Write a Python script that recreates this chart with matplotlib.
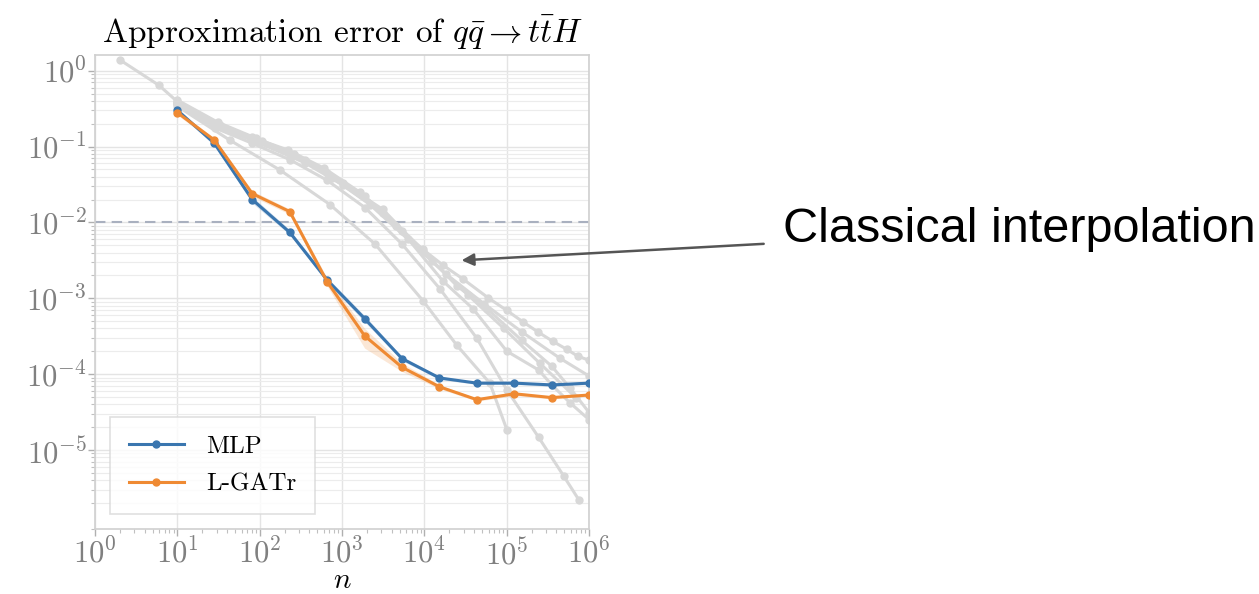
import matplotlib
matplotlib.use("Agg")
import matplotlib.pyplot as plt
from matplotlib.ticker import LogLocator, NullFormatter

plt.rcParams["font.family"] = "serif"
plt.rcParams["font.serif"] = ["cmr10", "DejaVu Serif"]
plt.rcParams["mathtext.fontset"] = "cm"
plt.rcParams["axes.formatter.use_mathtext"] = True

# training set sizes for the two networks
n_train = [10, 28, 81, 231, 658, 1874, 5337, 15199, 43288, 123285, 351119, 1000000]

mlp_err = [0.30, 0.111, 0.020, 0.0074, 1.74e-3, 5.4e-4, 1.6e-4, 8.9e-5, 7.6e-5, 7.6e-5, 7.2e-5, 7.6e-5]
mlp_lo = [0.28, 0.104, 0.018, 0.0069, 1.60e-3, 4.9e-4, 1.5e-4, 8.5e-5, 7.3e-5, 7.3e-5, 6.9e-5, 7.3e-5]
mlp_hi = [0.32, 0.118, 0.022, 0.0080, 1.88e-3, 5.9e-4, 1.7e-4, 9.3e-5, 7.9e-5, 7.9e-5, 7.5e-5, 7.9e-5]

gatr_err = [0.28, 0.122, 0.024, 0.0139, 1.65e-3, 3.2e-4, 1.23e-4, 6.8e-5, 4.6e-5, 5.5e-5, 4.9e-5, 5.3e-5]
gatr_lo = [0.26, 0.114, 0.022, 0.0128, 1.45e-3, 2.2e-4, 1.08e-4, 6.4e-5, 4.4e-5, 5.2e-5, 4.7e-5, 5.1e-5]
gatr_hi = [0.30, 0.130, 0.026, 0.0150, 1.85e-3, 4.0e-4, 1.40e-4, 7.2e-5, 4.8e-5, 5.8e-5, 5.1e-5, 5.5e-5]

# classical interpolation baselines (n, error)
interp_n1 = [2, 6, 10, 29, 100, 354, 1023, 3127, 9570, 16700, 29200, 58800, 100000, 156000,
             238000, 362000, 535000, 727000, 1000000]
interp_e1 = [1.39, 0.64, 0.39, 0.197, 0.111, 0.061, 0.031, 0.0135, 0.0044, 0.00274, 0.0018,
             0.00102, 6.9e-4, 4.9e-4, 3.6e-4, 2.7e-4, 2.12e-4, 1.72e-4, 1.52e-4]
interp_n2 = [10, 29, 80, 233, 655, 1892, 5320, 16700, 38700, 100000, 244000, 351000, 582000, 1000000]
interp_e2 = [0.37, 0.185, 0.122, 0.077, 0.045, 0.022, 0.0076, 0.00169, 7.3e-4, 2.0e-4, 1.13e-4,
             7.2e-5, 4.2e-5, 2.5e-5]
interp_n3 = [10, 29, 80, 233, 655, 1892, 5320, 15400, 43300, 100000, 244000, 492000, 748000]
interp_e3 = [0.36, 0.175, 0.111, 0.067, 0.036, 0.0157, 0.0052, 0.00133, 2.96e-4, 6.2e-5, 1.46e-5,
             4.5e-6, 2.2e-6]
interp_n4 = [10, 43, 176, 711, 2500, 9570, 24700, 62200, 100000]
interp_e4 = [0.34, 0.122, 0.049, 0.0172, 0.0052, 9.3e-4, 2.4e-4, 7.6e-5, 1.85e-5]
interp_n5 = [10, 33, 106, 354, 1023, 3127, 9570, 24700, 57200, 152000, 351000, 582000, 1000000]
interp_e5 = [0.38, 0.191, 0.118, 0.067, 0.033, 0.0148, 0.0042, 0.00146, 7.3e-4, 2.78e-4, 1.27e-4,
             6.6e-5, 3.1e-5]
interp_n6 = [10, 31, 90, 260, 752, 2175, 6290, 18200, 52600, 152000, 440000, 1000000]
interp_e6 = [0.41, 0.209, 0.129, 0.080, 0.039, 0.0172, 0.0060, 0.00209, 8.5e-4, 3.6e-4, 1.62e-4, 9.4e-5]
interp_n7 = [10, 29, 80, 220, 601, 1645, 4497, 12300, 33600, 92000, 251000, 688000]
interp_e7 = [0.38, 0.197, 0.133, 0.090, 0.052, 0.025, 0.0091, 0.0031, 0.00111, 4.0e-4, 1.39e-4, 4.9e-5]

interp_runs = [(interp_n1, interp_e1), (interp_n2, interp_e2), (interp_n3, interp_e3),
               (interp_n4, interp_e4), (interp_n5, interp_e5), (interp_n6, interp_e6),
               (interp_n7, interp_e7)]

target_err = 1e-2

BLUE = "#3a76af"
ORANGE = "#ef8a33"
GRAY = "#d8d8d8"

fig = plt.figure(figsize=(12.59, 5.94), dpi=100)
ax = fig.add_axes([0.0755, 0.109, 0.3925, 0.798])

for xs, ys in interp_runs:
    ax.plot(xs, ys, color=GRAY, lw=2.2, marker="o", ms=5, zorder=2)

ax.axhline(target_err, color="#a9b0bf", lw=1.5, ls=(0, (5, 3)), zorder=1)

ax.fill_between(n_train, mlp_lo, mlp_hi, color=BLUE, alpha=0.2, lw=0, zorder=3)
ax.fill_between(n_train, gatr_lo, gatr_hi, color=ORANGE, alpha=0.2, lw=0, zorder=3)
ax.plot(n_train, mlp_err, color=BLUE, lw=2.2, marker="o", ms=5, label="MLP", zorder=4)
ax.plot(n_train, gatr_err, color=ORANGE, lw=2.2, marker="o", ms=5, label="L-GATr", zorder=4)

ax.set_xscale("log")
ax.set_yscale("log")
ax.set_xlim(1, 1e6)
ax.set_ylim(9e-7, 1.6)

ax.xaxis.set_major_locator(LogLocator(base=10, numticks=10))
ax.xaxis.set_minor_locator(LogLocator(base=10, subs=range(2, 10), numticks=20))
ax.xaxis.set_minor_formatter(NullFormatter())
ax.yaxis.set_major_locator(LogLocator(base=10, numticks=10))
ax.yaxis.set_minor_locator(LogLocator(base=10, subs=range(2, 10), numticks=20))
ax.yaxis.set_minor_formatter(NullFormatter())
ax.set_yticks([1e0, 1e-1, 1e-2, 1e-3, 1e-4, 1e-5])

ax.grid(True, which="major", color="#e4e4e4", lw=1)
ax.grid(True, which="minor", axis="y", color="#ececec", lw=0.8)
ax.set_axisbelow(True)

for side in ax.spines.values():
    side.set_color("#d0d0d0")
    side.set_linewidth(1.2)

ax.tick_params(which="major", length=5, width=1, color="#b0b0b0",
               labelsize=22, labelcolor="#808080")
ax.tick_params(which="minor", length=3, width=0.8, color="#c0c0c0")
ax.tick_params(axis="x", which="major", pad=1)
ax.tick_params(axis="y", which="major", pad=1)

ax.set_title(r"Approximation error of $q\bar{q} \to t\bar{t}H$", fontsize=24, pad=9)
ax.set_xlabel(r"$n$", fontsize=21, labelpad=-2)

leg = ax.legend(loc="lower left", fontsize=18, handlelength=2.2, borderpad=0.75,
                labelspacing=0.6, handletextpad=0.9, fancybox=False,
                edgecolor="#d8d8d8", borderaxespad=0.6)
leg.get_frame().set_linewidth(1.2)

ax.annotate("Classical interpolation", xy=(10**4.45, 10**-2.5), xycoords="data",
            xytext=(0.622, 0.613), textcoords="figure fraction",
            ha="left", va="center", fontsize=35, family="Liberation Sans",
            arrowprops=dict(arrowstyle="-|>", color="#555555", lw=1.8,
                            mutation_scale=18, shrinkA=12, shrinkB=0))

fig.savefig("out.png", dpi=100)
